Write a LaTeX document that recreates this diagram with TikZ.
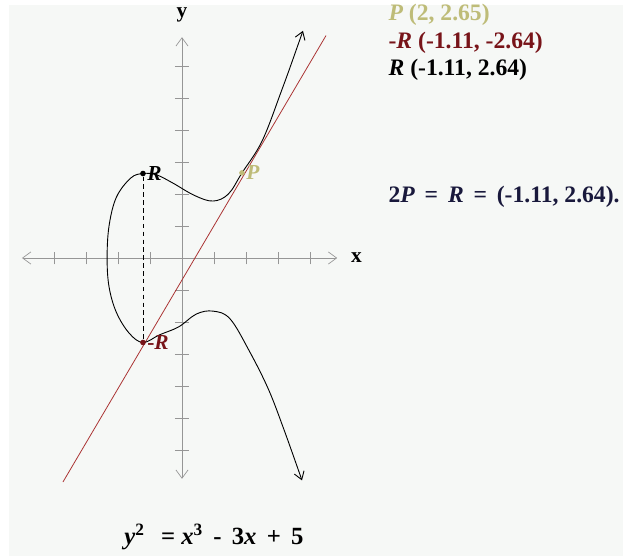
\documentclass[tikz,border=0pt]{standalone}
\usepackage{fontspec}
\setmainfont{Liberation Serif}
\usetikzlibrary{arrows.meta,positioning,calc}

\definecolor{pcol}{RGB}{190,188,120}
\definecolor{rcol}{RGB}{120,20,25}
\definecolor{lcol}{RGB}{170,50,50}
\definecolor{axcol}{RGB}{150,150,150}
\definecolor{navy}{RGB}{25,25,60}
\definecolor{paper}{RGB}{246,248,246}

\begin{document}
\begin{tikzpicture}[
  axis/.style={draw=axcol, line width=0.6pt,
               {Straight Barb[length=2.6mm,width=3.8mm]}-{Straight Barb[length=2.6mm,width=3.8mm]}},
  tick/.style={draw=axcol, line width=0.6pt},
  curve/.style={draw=black, line width=0.8pt,
                {Straight Barb[length=2.4mm,width=3.2mm]}-{Straight Barb[length=2.4mm,width=3.2mm]}},
  dot/.style={circle, inner sep=0pt, minimum size=5pt},
  lbl/.style={font=\fontsize{19}{21}\selectfont\bfseries\itshape, inner sep=1pt},
  info/.style={font=\fontsize{21}{24}\selectfont\bfseries, anchor=west, inner sep=0pt}
]
\useasboundingbox (-5.6875,-9.3125) rectangle (13.78125,8.0625);
\fill[paper] (-5.4,-9.3125) rectangle (13.78125,7.9);

% axes
\draw[axis] (-5,0) -- (4.85,0);
\draw[axis] (0,-6.9) -- (0,6.9);
\foreach \i in {-4,...,-1,1,2,3,4}
  \draw[tick] (\i,-0.2) -- (\i,0.2);
\foreach \j in {-6,...,-1,1,2,3,4,5,6}
  \draw[tick] (-0.22,\j) -- (0.22,\j);
\node[font=\fontsize{19}{21}\selectfont\bfseries] (xl) at (5.45,0) {x};
\node[font=\fontsize{19}{21}\selectfont\bfseries] (yl) at (0,7.6) {y};

% points
\coordinate (Rc)  at (-1.22,2.64);
\coordinate (nRc) at (-1.22,-2.64);
\coordinate (Pc)  at (1.875,2.66);
\coordinate (la)  at (-3.72,-7.0);
\coordinate (lb)  at (4.5,6.95);

% tangent line
\draw[lcol, line width=0.7pt] (la) -- (lb);

% curve
\draw[curve] plot[smooth, tension=0.6] coordinates {
  (3.78,7.1) (3.1,5.2) (2.5,3.65) (Pc) (1.45,2.0) (0.97,1.78)
  (0.4,1.95) (-0.3,2.35) (-0.8,2.6) (Rc) (-1.6,2.5) (-2.05,1.9)
  (-2.28,1.0) (-2.34,0) (-2.28,-0.9) (-2.05,-1.7) (-1.65,-2.35)
  (nRc) (-0.7,-2.4) (-0.1,-2.15) (0.45,-1.75) (0.97,-1.66)
  (1.5,-1.9) (2.1,-2.9) (2.7,-4.1) (3.2,-5.4) (3.75,-6.95)};

\node[dot, fill=black] (R) at (Rc) {};
\node[dot, fill=rcol] (nR) at (nRc) {};
\node[dot, fill=pcol] (P) at (Pc) {};
\draw[black, line width=0.6pt, dash pattern=on 4pt off 3pt] (R) -- (nR);

\node[lbl, right=0pt of R] (Rl) {R};
\node[lbl, text=rcol, right=0pt of nR] (nRl) {\upshape-\itshape R};
\node[lbl, text=pcol, right=0pt of P] (Pl) {P};

% values
\node[info, text=pcol] (i1) at (6.45,7.59) {\itshape P\upshape\ (2, 2.65)};
\node[info, text=rcol] (i2) at (6.45,6.72) {-\itshape R\upshape\ (-1.11, -2.64)};
\node[info] (i3) at (6.45,5.875) {\itshape R\upshape\ (-1.11, 2.64)};
\node[info, text=navy] (i4) at (6.45,1.9)
  {2\itshape P\upshape\,\ =\ \,\itshape R\upshape\,\ =\ \,(-1.11, 2.64).};

\node[font=\fontsize{22}{25}\selectfont\bfseries] (eq) at (1.0,-8.72)
  {\itshape y\upshape\textsuperscript{2} \ \,= \itshape x\upshape\textsuperscript{3}\, - \,3\itshape x\upshape\ \,+ \,5};
\end{tikzpicture}
\end{document}
